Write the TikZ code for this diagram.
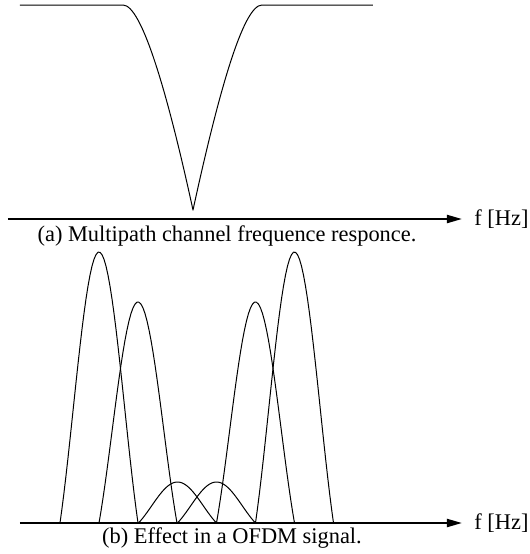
\documentclass[tikz,border=0pt]{standalone}
\usepackage{fontspec}
\setmainfont{Liberation Serif}
\usetikzlibrary{arrows.meta,positioning}
\tikzset{
  curve/.style ={line width=0.5pt, line join=round},
  faxis/.style ={-{Triangle[length=7.5pt, width=4pt]}, line width=1pt},
  flabel/.style={font=\fontsize{11.2}{13}\selectfont, inner sep=0pt},
  capt/.style  ={font=\fontsize{11.2}{13}\selectfont, inner sep=0pt, anchor=north}
}

\begin{document}
\begin{tikzpicture}[x=0.5pt, y=-0.5pt]
\useasboundingbox (0,0) rectangle (530,554);
% (a) channel response with a deep notch
\coordinate (a0) at (8,219);
\coordinate (a1) at (462,219);
\draw[faxis] (a0) -- (a1);
\node[flabel, right=6pt of a1] (fa) {f [Hz]};
\node[capt] (capa) at (227,225) {(a) Multipath channel frequence responce.};
\coordinate (notch) at (193,210);
\draw[curve] (20,5) -- (123,5) .. controls (142,5) and (168,95) .. (notch)
  .. controls (218,95) and (243,5) .. (262,5) -- (373,5);
% (b) OFDM sub-carriers after the channel
\coordinate (b0) at (20,523);
\coordinate (b1) at (462,523);
\draw[faxis] (b0) -- (b1);
\node[flabel, right=6pt of b1] (fb) {f [Hz]};
\node[capt] (capb) at (232,527) {(b) Effect in a OFDM signal.};
\foreach \c/\h in {99/271,138/221,177.5/41,216.5/41,255.5/221,294.5/271}
  \draw[curve] plot[domain=-39:39, samples=40]
    ({\c+\x},{523-\h*sin(\x*180/39)/(pi*\x/39)});
\end{tikzpicture}
\end{document}
